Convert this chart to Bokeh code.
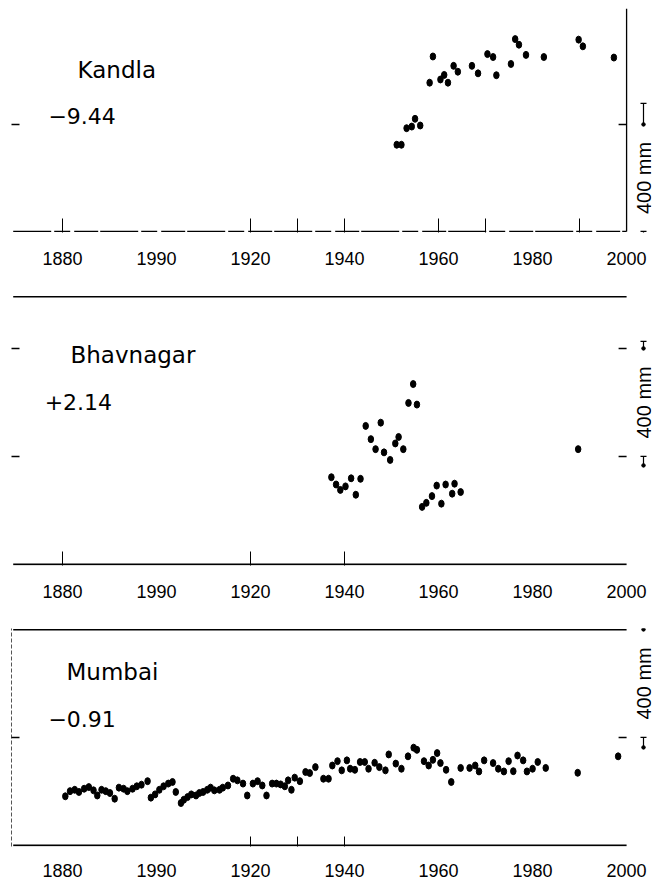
from bokeh.plotting import figure
from bokeh.layouts import column
from bokeh.models import FixedTicker, Range1d, Label, LinearAxis
from bokeh.embed import file_html
from bokeh.resources import INLINE

# ---------------- data ----------------
YEAR_TICKS = [1880, 1900, 1920, 1940, 1960, 1980, 2000]
YEAR_TICK_LABELS = ["1880", "1990", "1920", "1940", "1960", "1980", "2000"]

STATIONS = ["Kandla", "Bhavnagar", "Mumbai"]
RATES = ["\u22129.44", "+2.14", "\u22120.91"]

kandla_years = [1951.1, 1952.1, 1953.2, 1954.3, 1955.0, 1956.1, 1958.1, 1958.8, 1960.4, 1961.2,
                1962.0, 1963.2, 1964.1, 1967.1, 1968.4, 1970.4, 1971.6, 1972.3, 1975.4, 1976.3,
                1977.1, 1978.6, 1982.4, 1989.8, 1990.7, 1997.3]
kandla_mm = [6924, 6924, 6986, 6992, 7021, 6996, 7156, 7254, 7168, 7185,
             7156, 7219, 7197, 7219, 7191, 7263, 7252, 7184, 7226, 7319,
             7298, 7260, 7252, 7317, 7292, 7250]

bhavnagar_years = [1937.2, 1938.2, 1939.1, 1940.2, 1941.4, 1942.4, 1943.4, 1944.5, 1945.6, 1946.6,
                   1947.7, 1948.4, 1949.7, 1950.8, 1951.5, 1952.5, 1953.6, 1954.6, 1955.4, 1956.5,
                   1957.4, 1958.6, 1959.6, 1960.6, 1961.5, 1962.9, 1963.4, 1964.7, 1989.7]
bhavnagar_mm = [6923, 6896, 6876, 6889, 6919, 6858, 6917, 7113, 7064, 7027,
                7125, 7015, 6987, 7048, 7072, 7027, 7198, 7268, 7192, 6813,
                6828, 6853, 6892, 6825, 6896, 6862, 6899, 6868, 7027]

mumbai_years = [1880.6, 1881.6, 1882.6, 1883.5, 1884.6, 1885.6, 1886.6, 1887.4, 1888.3, 1889.2,
                1890.1, 1891.1, 1892.0, 1893.0, 1893.8, 1894.9, 1895.8, 1896.8, 1898.1, 1898.8,
                1899.7, 1900.6, 1901.5, 1902.5, 1903.4, 1904.1, 1905.2, 1905.8, 1906.6, 1907.4,
                1908.4, 1909.1, 1909.9, 1910.8, 1911.5, 1912.3, 1913.4, 1914.1, 1915.2, 1916.3,
                1917.2,
                1918.4, 1919.3, 1920.5, 1921.5, 1922.5, 1923.4, 1924.6, 1925.5, 1926.4, 1927.3,
                1928.0, 1928.7, 1929.4, 1930.5, 1931.7, 1932.6, 1933.8, 1935.5, 1936.6, 1937.4,
                1938.5, 1939.4, 1940.5, 1941.2, 1942.2, 1943.3, 1944.3, 1945.1, 1946.4, 1947.4,
                1948.7, 1949.4, 1950.9, 1952.1, 1953.5, 1954.7, 1955.4, 1956.9, 1957.9, 1958.8,
                1959.7,
                1960.4, 1961.6, 1962.7, 1964.7, 1966.6, 1967.8, 1968.6, 1969.7, 1971.6, 1972.7,
                1973.9, 1974.9, 1975.9, 1976.8, 1978.0, 1978.8, 1980.0, 1981.1, 1982.8, 1989.6,
                1998.2]
mumbai_mm = [6782, 6801, 6806, 6798, 6810, 6816, 6804, 6785, 6806, 6801,
             6794, 6773, 6814, 6810, 6801, 6810, 6819, 6825, 6838, 6777,
             6789, 6806, 6819, 6829, 6835, 6798, 6757, 6769, 6779, 6789,
             6785, 6794, 6798, 6806, 6814, 6804, 6806, 6814, 6822, 6847,
             6841,
             6829, 6785, 6829, 6838, 6822, 6785, 6829, 6829, 6826, 6819,
             6841, 6806, 6851, 6838, 6872, 6868, 6890, 6847, 6847, 6896,
             6912, 6878, 6915, 6884, 6880, 6909, 6909, 6884, 6906, 6890,
             6878, 6937, 6903, 6884, 6930, 6962, 6954, 6912, 6896, 6917,
             6942,
             6905, 6880, 6835, 6887, 6887, 6896, 6874, 6915, 6905, 6884,
             6874, 6912, 6875, 6933, 6915, 6874, 6884, 6909, 6887, 6869,
             6930]

# y reference levels (mm) and ticks every 400 mm
BASE_MM = 6600
kandla_ticks = [7000]
bhavnagar_ticks = [7000, 7400]
mumbai_ticks = [7000]
kandla_xmarks = [1880, 1920, 1930, 1940, 1960, 1970, 1990]
bhavnagar_xmarks = [1880, 1920, 1940]
mumbai_xmarks = [1920, 1930, 1940]

# ---------------- layout ----------------
X_START, X_END = 1869.15, 2005.3
FIG_W, LEFT_B, RIGHT_B = 655, 11, 4
FRAME_W = FIG_W - LEFT_B - RIGHT_B
PX_YR = FRAME_W / (X_END - X_START)
X_LINE0 = X_START + 1.7 / PX_YR
X_BAR = X_START + (643 - LEFT_B) / PX_YR

LABEL_FONT = "Liberation Sans"
TITLE_FONT = "DejaVu Sans"

panels = [
    dict(name=STATIONS[0], rate=RATES[0], xs=kandla_years, ys=kandla_mm,
         yticks=kandla_ticks, xmarks=kandla_xmarks, mark_len=14,
         y_range=(6596, 6596 + 224 / 0.2675), frame_h=224, bt=8, bb=54,
         standoff=19, top_line=False, right_line=True, base_dash="38 3 16 4 24 2",
         base_w=1.3,
         left_line=False, title_y=7205, rate_y=7030, title_x=1883.2, rate_x=1877.0,
         bar=(6600, 7000), top_mark=21, bot_mark=12),
    dict(name=STATIONS[1], rate=RATES[1], xs=bhavnagar_years, ys=bhavnagar_mm,
         yticks=bhavnagar_ticks, xmarks=bhavnagar_xmarks, mark_len=14,
         y_range=(6596, 7596), frame_h=270, bt=9, bb=55,
         standoff=19, top_line=True, right_line=False, base_dash="solid",
         base_w=1.6,
         left_line=False, title_y=7374, rate_y=7200, title_x=1881.7, rate_x=1876.2,
         bar=(7000, 7400), top_mark=7, bot_mark=9),
    dict(name=STATIONS[2], rate=RATES[2], xs=mumbai_years, ys=mumbai_mm,
         yticks=mumbai_ticks, xmarks=mumbai_xmarks, mark_len=10,
         y_range=(6596, 6596 + 218 / 0.27), frame_h=218, bt=8, bb=35,
         standoff=17, top_line=True, right_line=False, base_dash="solid",
         base_w=1.6,
         left_line=True, title_y=7241, rate_y=7070, title_x=1880.85, rate_x=1877.0,
         bar=(7000, 7400), top_mark=8, bot_mark=10),
]


def make_panel(c):
    y0, y1 = c["y_range"]
    mm_px = (y1 - y0) / c["frame_h"]
    p = figure(width=FIG_W, height=c["bt"] + c["frame_h"] + c["bb"],
               x_range=Range1d(X_START, X_END), y_range=Range1d(y0, y1),
               output_backend="svg", toolbar_location=None,
               min_border_left=LEFT_B, min_border_right=RIGHT_B,
               min_border_top=c["bt"], min_border_bottom=c["bb"],
               y_axis_location=None)
    p.grid.visible = False
    p.outline_line_color = None
    p.background_fill_color = "white"
    p.border_fill_color = "white"

    # x axis: year labels + inner tick marks
    xa = p.xaxis[0]
    xa.ticker = FixedTicker(ticks=YEAR_TICKS, minor_ticks=c["xmarks"])
    xa.major_label_overrides = {t: s for t, s in zip(YEAR_TICKS, YEAR_TICK_LABELS)}
    xa.axis_line_color = None
    xa.major_tick_line_color = None
    xa.major_tick_in = 0
    xa.major_tick_out = 0
    xa.minor_tick_in = c["mark_len"]
    xa.minor_tick_out = 0
    xa.minor_tick_line_color = "black"
    xa.minor_tick_line_width = 1
    xa.major_label_standoff = c["standoff"]
    xa.major_label_text_font = LABEL_FONT
    xa.major_label_text_font_size = "18px"
    xa.major_label_text_color = "black"

    # left axis: inner ticks only
    ya = LinearAxis(ticker=FixedTicker(ticks=c["yticks"]),
                    major_label_overrides={t: "" for t in c["yticks"]},
                    major_label_standoff=0, major_tick_in=8, major_tick_out=0,
                    minor_tick_line_color=None, major_tick_line_color="black",
                    major_tick_line_width=1.5)
    if c["left_line"]:
        ya.axis_line_color = "#555555"
        ya.axis_line_dash = "4 2"
        ya.axis_line_width = 1
    else:
        ya.axis_line_color = None
    p.add_layout(ya, "left")

    # frame lines
    p.segment(x0=[X_LINE0], y0=[BASE_MM], x1=[2000], y1=[BASE_MM],
              line_color="black", line_width=c["base_w"], line_dash=c["base_dash"])
    if c["top_line"]:
        top_mm = y1 - 1.2 * mm_px
        p.segment(x0=[X_LINE0], y0=[top_mm], x1=[2000], y1=[top_mm],
                  line_color="black", line_width=1.6)
    if c["right_line"]:
        p.segment(x0=[2000], y0=[BASE_MM], x1=[2000], y1=[y1],
                  line_color="black", line_width=1.3)
    # right inner ticks
    n = len(c["yticks"])
    p.segment(x0=[2000 - 8 / PX_YR] * n, y0=c["yticks"], x1=[2000] * n, y1=c["yticks"],
              line_color="black", line_width=1.5)

    # data points
    p.ellipse(x=c["xs"], y=c["ys"], width=5.5, height=7,
              width_units="screen", height_units="screen",
              fill_color="black", line_color="black")

    # 400 mm scale bar
    lo, hi = c["bar"]
    cap = 3 / PX_YR
    top_end = hi + c["top_mark"] * mm_px
    bot_end = lo - c["bot_mark"] * mm_px
    p.segment(x0=[X_BAR, X_BAR, X_BAR - cap, X_BAR - cap],
              y0=[hi, lo, top_end, lo],
              x1=[X_BAR, X_BAR, X_BAR + cap, X_BAR + cap],
              y1=[top_end, bot_end, top_end, lo],
              line_color="black", line_width=1.2)
    p.scatter(x=[X_BAR, X_BAR], y=[hi, bot_end], size=3.5, color="black")
    p.add_layout(Label(x=X_BAR, y=(lo + hi) / 2, text="400 mm", angle=90, angle_units="deg",
                       text_align="center", text_baseline="middle",
                       text_font=LABEL_FONT, text_font_size="20px", text_color="black"))

    # station name and rate
    p.add_layout(Label(x=c["title_x"], y=c["title_y"], text=c["name"],
                       text_align="left", text_baseline="alphabetic",
                       text_font=TITLE_FONT, text_font_size="23px", text_color="black"))
    p.add_layout(Label(x=c["rate_x"], y=c["rate_y"], text=c["rate"],
                       text_align="left", text_baseline="alphabetic",
                       text_font=TITLE_FONT, text_font_size="22px", text_color="black"))
    return p


figs = [make_panel(c) for c in panels]
layout = column(*figs, spacing=0)

open("out.html", "w").write(file_html(layout, INLINE))
